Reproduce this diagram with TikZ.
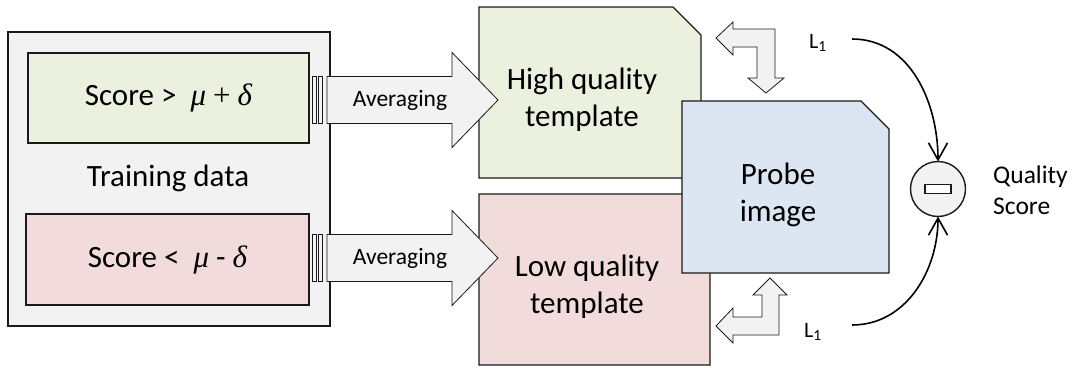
\documentclass[tikz,border=0pt]{standalone}
\usepackage{fontspec}
\setmainfont{Carlito}
\newfontfamily\symfont{Liberation Serif}
\newcommand{\symit}[1]{{\symfont\itshape #1}}
\usetikzlibrary{arrows.meta}
\definecolor{panel}{HTML}{F2F2F2}
\definecolor{hifill}{HTML}{EBF1DE}
\definecolor{lofill}{HTML}{F2DCDB}
\definecolor{probefill}{HTML}{DCE6F2}
\definecolor{edge}{HTML}{1A1A1A}
\begin{document}
\begin{tikzpicture}[x=1pt,y=-1pt,
  box/.style={draw=edge, line width=1.4pt, inner sep=0pt, outer sep=0pt},
  frame/.style={inner sep=0pt, outer sep=0pt},
  arr/.style={draw=edge, line width=0.8pt, fill=panel, line join=miter},
  big/.style={font=\fontsize{31}{37}\selectfont, align=center},
  small/.style={font=\fontsize{23.5}{30}\selectfont},
  curve/.style={draw=black, line width=1.6pt,
    -{Straight Barb[length=17pt,width=19pt,line width=1.6pt]}},
  pics/stripedarrow/.style={code={
    \draw[arr] (0,-23.5) rectangle (3.5,23.5);
    \draw[arr] (6,-23.5) rectangle (10,23.5);
    \draw[arr] (14.5,-23.5) -- (139.5,-23.5) -- (139.5,-47.5) -- (185.5,0)
      -- (139.5,47.5) -- (139.5,23.5) -- (14.5,23.5) -- cycle;
  }},
]
\useasboundingbox (0,0) rectangle (1073,367);

% training data panel with its two score groups
\node[box, fill=panel, minimum width=322pt, minimum height=294pt] (train) at (169,179) {};
\node[box, fill=hifill, big, minimum width=281pt, minimum height=90pt] (hi) at (168.5,98)
  {Score >\ \ \symit{μ} {\symfont +} \symit{δ}};
\node[box, fill=lofill, big, minimum width=283pt, minimum height=91pt] (lo) at (167.5,259.5)
  {Score <\ \ \symit{μ} - \symit{δ}};
\node[big] (traintxt) at (168,178) {Training data};

% templates and probe (snipped top-right corner)
\node[frame, minimum width=222pt, minimum height=171pt] (hq) at (590,92.5) {};
\draw[box, fill=hifill] (hq.south west) -- (hq.north west) -- ([xshift=-28pt]hq.north east)
  -- ([yshift=-28pt]hq.north east) -- (hq.south east) -- cycle;
\node[frame, minimum width=231pt, minimum height=171pt] (lq) at (594.5,279.5) {};
\draw[box, fill=lofill] (lq.south west) -- (lq.north west) -- ([xshift=-28pt]lq.north east)
  -- ([yshift=-28pt]lq.north east) -- (lq.south east) -- cycle;
\node[frame, minimum width=207pt, minimum height=172pt] (probe) at (785.5,187) {};
\draw[box, fill=probefill] (probe.south west) -- (probe.north west) -- ([xshift=-28pt]probe.north east)
  -- ([yshift=-28pt]probe.north east) -- (probe.south east) -- cycle;

\node[big] (hqtxt) at ([shift={(-8,7.5)}]hq.center) {High quality\\template};
\node[big] (lqtxt) at ([shift={(-7.5,7.5)}]lq.center) {Low quality\\template};
\node[big] (probetxt) at ([shift={(-7.5,8)}]probe.center) {Probe\\image};

% averaging arrows
\pic (avghi) at ([shift={(3.5,2)}]hi.east) {stripedarrow};
\node[small] (avghitxt) at ([shift={(91,2)}]hi.east) {Averaging};
\pic (avglo) at ([shift={(3.5,-1.5)}]lo.east) {stripedarrow};
\node[small] (avglotxt) at ([shift={(91,-1.5)}]lo.east) {Averaging};

% bent double arrows between templates and probe
\draw[arr] (716,38) -- (733,22) -- (733,29) -- (775,29) -- (775,78) -- (784,78) -- (766,93)
  -- (748,78) -- (757,78) -- (757,47) -- (733,47) -- (733,55) -- cycle;
\draw[arr] (770,278) -- (787,295) -- (779,295) -- (779,335) -- (733,335) -- (733,343)
  -- (716,326) -- (733,308) -- (733,317) -- (762,317) -- (762,295) -- (753,295) -- cycle;

% distances
\node[font=\fontsize{22}{26}\selectfont] (l1a) at (818,43) {L\textsubscript{1}};
\node[font=\fontsize{22}{26}\selectfont] (l1b) at (813,332) {L\textsubscript{1}};

% difference and quality score
\node[box, circle, fill=panel, minimum size=55pt] (qs) at (938,189) {};
\node[draw=edge, line width=1.2pt, fill=white, minimum width=26pt, minimum height=9pt,
  inner sep=0pt] (minus) at (qs) {};
\node[font=\fontsize{25.5}{31}\selectfont, align=left, anchor=west, inner sep=0pt] (qslabel)
  at (993,190) {Quality\\Score};

\coordinate (c1) at (852,39);
\coordinate (c2) at (852,325);
\draw[curve] (c1) to[out=0,in=90] (qs.north);
\draw[curve] (c2) to[out=0,in=-90] (qs.south);
\end{tikzpicture}
\end{document}
